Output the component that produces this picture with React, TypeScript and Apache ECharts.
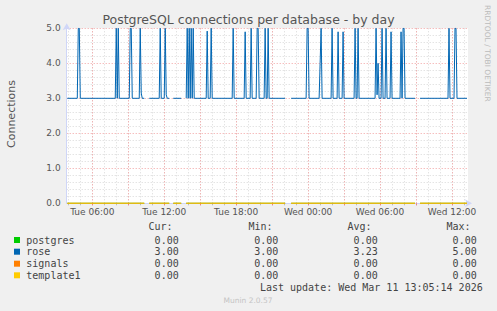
import React, { useEffect, useRef } from 'react';
import * as echarts from 'echarts';

// rose connections: [minutes since Tue 00:00, value]; null = no data (gap)
const roseData: [number, number | null][] = [
  [235, 3],
  [285, 3], [290, 5], [295, 5], [300, 3],
  [475, 3], [480, 5], [485, 3], [490, 5], [495, 3],
  [545, 3], [550, 5], [555, 5], [560, 3],
  [595, 3], [600, 5], [605, 3.15], [610, 3],
  [620, 3], [625, null], [645, 3],
  [695, 3], [700, 5], [705, 3],
  [720, 3], [725, 5], [730, 3.1], [735, 3],
  [745, 3], [750, null], [765, 3],
  [805, 3], [810, null], [830, 3],
  [835, 5], [840, 3], [845, 5], [850, 3], [855, 5], [860, 3], [865, 5], [870, 3],
  [930, 3], [935, 4.92], [940, 3],
  [950, 3], [955, 5], [960, 3],
  [1060, 3], [1065, 5], [1070, 3],
  [1120, 3], [1125, 4.9], [1130, 3],
  [1150, 3], [1155, 5], [1160, 3],
  [1180, 3], [1185, 5], [1190, 5], [1195, 3],
  [1220, 3], [1225, 5], [1230, 3],
  [1235, 3], [1240, 5], [1245, 3],
  [1325, 3], [1330, null], [1355, 3],
  [1430, 3], [1435, 5], [1440, 5], [1445, 3],
  [1495, 3], [1500, 4], [1505, 5], [1510, 3],
  [1555, 3], [1560, 5], [1565, 3],
  [1585, 3], [1590, 4.9], [1595, 3],
  [1610, 3], [1615, 4.9], [1620, 3],
  [1670, 3], [1675, 5], [1680, 3],
  [1685, 3], [1690, 5], [1695, 3],
  [1775, 3], [1780, 5], [1785, 3.1], [1790, 4], [1795, 3],
  [1805, 3], [1810, 5], [1815, 3],
  [1825, 3], [1830, 5], [1835, 3],
  [1850, 3], [1855, 4.9], [1860, 3],
  [1900, 3], [1905, 4.9], [1910, 3], [1915, 5], [1920, 5], [1925, 3],
  [1975, 3], [1980, null], [2000, 3],
  [2140, 3], [2145, 5], [2150, 3],
  [2170, 3], [2175, 5], [2180, 5], [2185, 3],
  [2235, 3],
];

const seriesNames = ['postgres', 'rose', 'signals', 'template1'];
const seriesColors = ['#00CC00', '#0066B3', '#FF8000', '#FFCC00'];
const curValues = ['0.00', '3.00', '0.00', '0.00'];
const minValues = ['0.00', '3.00', '0.00', '0.00'];
const avgValues = ['0.00', '3.23', '0.00', '0.00'];
const maxValues = ['0.00', '5.00', '0.00', '0.00'];
const columnHeaders = ['Cur:', 'Min:', 'Avg:', 'Max:'];

const xLabelMinutes = [360, 720, 1080, 1440, 1800, 2160];
const xLabelTexts = ['Tue 06:00', 'Tue 12:00', 'Tue 18:00', 'Wed 00:00', 'Wed 06:00', 'Wed 12:00'];
const majorGridMinutes = [360, 540, 720, 900, 1080, 1260, 1440, 1620, 1800, 1980, 2160];
const minorGridMinutes = [
  240, 300, 360, 420, 480, 540, 600, 660, 720, 780, 840, 900, 960, 1020, 1080, 1140, 1200,
  1260, 1320, 1380, 1440, 1500, 1560, 1620, 1680, 1740, 1800, 1860, 1920, 1980, 2040, 2100, 2160, 2220,
];

const X_MIN = 232;
const X_MAX = 2240;

const TITLE = 'PostgreSQL connections per database - by day';
const Y_NAME = 'Connections';
const SIDE_TEXT = 'RRDTOOL / TOBI OETIKER';
const LAST_UPDATE = 'Last update: Wed Mar 11 13:05:14 2026';
const FOOTER = 'Munin 2.0.57';

export default function App() {
  const ref = useRef<HTMLDivElement>(null);

  useEffect(() => {
    if (!ref.current) return;
    const chart = echarts.init(ref.current, undefined, { renderer: 'svg' });

    const zeroData = roseData.map(([m, v]) => [m, v === null ? null : 0]);

    const mono = 'DejaVu Sans Mono';
    const sans = 'DejaVu Sans';
    const legendColor = '#444';

    const rowY = [240, 251.7, 263.7, 275.3];
    const headerY = 226.7;
    const headerRight = [172.5, 272.5, 371.5, 470.5];
    const valueRight = [178.7, 278.3, 377.7, 476.7];
    const valueCols = [curValues, minValues, avgValues, maxValues];

    const graphics: any[] = [
      {
        type: 'text', x: 248.5, y: 19,
        style: { text: TITLE, fontFamily: sans, fontSize: 12.5, fill: '#555', textAlign: 'center', textVerticalAlign: 'middle' },
      },
      {
        type: 'text', x: 11, y: 114, rotation: Math.PI / 2,
        style: { text: Y_NAME, fontFamily: sans, fontSize: 11, fill: '#555', textAlign: 'center', textVerticalAlign: 'middle' },
      },
      {
        type: 'text', x: 487, y: 5, rotation: -Math.PI / 2,
        style: { text: SIDE_TEXT, fontFamily: sans, fontSize: 7.5, fill: '#bbb', textAlign: 'left', textVerticalAlign: 'middle' },
      },
      {
        type: 'text', x: 482.7, y: 287.7,
        style: { text: LAST_UPDATE, fontFamily: mono, fontSize: 10, fill: legendColor, textAlign: 'right', textVerticalAlign: 'middle' },
      },
      {
        type: 'text', x: 248, y: 300,
        style: { text: FOOTER, fontFamily: sans, fontSize: 7.5, fill: '#c4c4c4', textAlign: 'center', textVerticalAlign: 'middle' },
      },
    ];
    columnHeaders.forEach((h, i) => {
      graphics.push({
        type: 'text', x: headerRight[i], y: headerY,
        style: { text: h, fontFamily: mono, fontSize: 10, fill: legendColor, textAlign: 'right', textVerticalAlign: 'middle' },
      });
    });
    seriesNames.forEach((name, r) => {
      graphics.push({
        type: 'rect', shape: { x: 14, y: rowY[r] - 3, width: 6, height: 6 },
        style: { fill: seriesColors[r] },
      });
      graphics.push({
        type: 'text', x: 26.3, y: rowY[r],
        style: { text: name, fontFamily: mono, fontSize: 10, fill: legendColor, textAlign: 'left', textVerticalAlign: 'middle' },
      });
      valueCols.forEach((col, c) => {
        graphics.push({
          type: 'text', x: valueRight[c], y: rowY[r],
          style: { text: col[r], fontFamily: mono, fontSize: 10, fill: legendColor, textAlign: 'right', textVerticalAlign: 'middle' },
        });
      });
    });

    const axisColor = '#CFD6F8';

    chart.setOption({
      animation: false,
      backgroundColor: '#F0F0F0',
      grid: {
        left: 66.7, top: 28.3, right: 29, bottom: 107.7,
        show: true, backgroundColor: '#FFFFFF', borderWidth: 0,
      },
      xAxis: [
        {
          type: 'value', min: X_MIN, max: X_MAX, position: 'bottom',
          axisLine: { show: false },
          axisLabel: { show: false },
          axisTick: { show: true, customValues: minorGridMinutes, length: 2, lineStyle: { color: '#bbb' } },
          splitLine: { show: true, lineStyle: { color: '#D8D8D8', type: [1, 2], width: 1 } },
        },
        {
          type: 'value', min: X_MIN, max: X_MAX, position: 'bottom',
          axisLine: {
            show: true, onZero: false,
            lineStyle: { color: axisColor, width: 1 },
            symbol: ['none', 'arrow'], symbolSize: [6, 7], symbolOffset: [0, 4],
          },
          axisTick: { show: true, customValues: majorGridMinutes, length: 2, lineStyle: { color: '#F08080' } },
          axisLabel: {
            show: true, customValues: xLabelMinutes,
            formatter: (v: number) => xLabelTexts[xLabelMinutes.indexOf(Math.round(v))] ?? '',
            fontFamily: sans, fontSize: 9, color: '#555', margin: 4,
          },
          splitLine: { show: true, lineStyle: { color: '#F2A0A0', type: [1, 2], width: 1 } },
        },
      ],
      yAxis: {
        type: 'value', min: 0, max: 5, interval: 1,
        axisLine: {
          show: true, lineStyle: { color: axisColor, width: 1 },
          symbol: ['none', 'arrow'], symbolSize: [6, 7], symbolOffset: [0, 5],
        },
        axisTick: { show: false },
        axisLabel: { formatter: (v: number) => v.toFixed(1), fontFamily: sans, fontSize: 9, color: '#555', margin: 6 },
        splitLine: { show: true, lineStyle: { color: '#F2A0A0', type: [1, 2], width: 1 } },
        minorTick: { show: false, splitNumber: 5 },
        minorSplitLine: { show: true, lineStyle: { color: '#D8D8D8', type: [1, 2], width: 1 } },
      },
      series: seriesNames.map((name, i) => ({
        name, type: 'line', xAxisIndex: 1,
        data: name === 'rose' ? roseData : zeroData,
        showSymbol: false, symbol: 'none',
        connectNulls: false,
        lineStyle: { color: seriesColors[i], width: 1 },
        itemStyle: { color: seriesColors[i] },
        z: 3 + i,
      })),
      graphic: graphics,
    });

    return () => chart.dispose();
  }, []);

  return (
    <div
      ref={ref}
      style={{ position: 'fixed', left: 0, top: 0, width: 497, height: 311 }}
    />
  );
}
